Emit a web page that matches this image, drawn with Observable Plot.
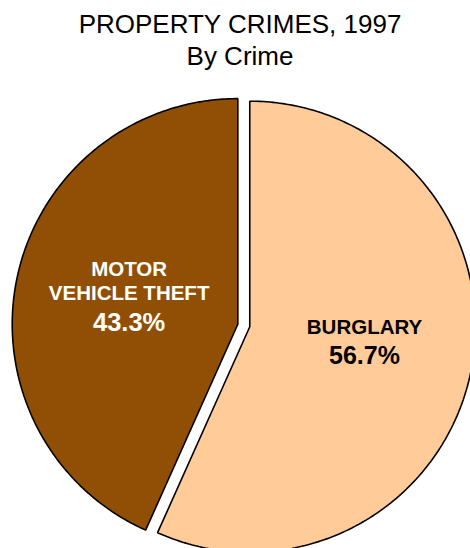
<!DOCTYPE html>
<html><head><meta charset="utf-8">
<script src="https://cdn.jsdelivr.net/npm/d3@7"></script>
<script src="https://cdn.jsdelivr.net/npm/@observablehq/plot@0.6"></script>
<style>
html,body{margin:0;padding:0;background:#fff;overflow:hidden;}
#title{position:relative;width:470px;height:80px;font-family:"Liberation Sans",Arial,sans-serif;color:#000;}
#title div{position:absolute;left:5px;width:470px;text-align:center;font-size:26px;line-height:32px;white-space:nowrap;}
#chart svg{overflow:hidden;display:block;}
</style></head><body>
<div id="title"><div style="top:8px">PROPERTY CRIMES, 1997</div><div style="top:40px">By Crime</div></div>
<div id="chart"></div>
<script>
const categories = ["BURGLARY", "MOTOR VEHICLE THEFT"];
const nameLabels = ["BURGLARY", "MOTOR\nVEHICLE THEFT"];
const percents = [56.7, 43.3];
const colors = ["#FFCC99", "#904F05"];
const textColors = ["#000000", "#ffffff"];

const R = 225.6, CX = 243.3, CY = 245, EXPLODE = 6.1 / 225.6;

const rows = categories.map((c, i) => ({cat: c, value: percents[i]}));
const arcs = d3.pie().sort(null).value(d => d.value)(rows);

const slices = arcs.map((a, i) => {
  const mid = (a.startAngle + a.endAngle) / 2;
  const ox = EXPLODE * Math.sin(mid), oy = EXPLODE * Math.cos(mid);
  const pts = [{cat: rows[i].cat, x: ox, y: oy}];
  const n = 240;
  for (let k = 0; k <= n; k++) {
    const t = a.startAngle + (a.endAngle - a.startAngle) * k / n;
    pts.push({cat: rows[i].cat, x: ox + Math.sin(t), y: oy + Math.cos(t)});
  }
  pts.push({cat: rows[i].cat, x: ox, y: oy});
  return pts;
});

const labelPts = arcs.map((a, i) => {
  const mid = (a.startAngle + a.endAngle) / 2;
  const ox = EXPLODE * Math.sin(mid), oy = EXPLODE * Math.cos(mid);
  return {
    x: ox + 0.52 * Math.sin(mid),
    y: oy + 0.52 * Math.cos(mid),
    name: nameLabels[i],
    pct: percents[i].toFixed(1) + "%",
    color: textColors[i]
  };
});

const font = {fontFamily: "'Liberation Sans', Arial, sans-serif", fontWeight: "bold"};

const chart = Plot.plot({
  width: 470,
  height: 468,
  margin: 0,
  x: {domain: [-1, 1], range: [CX - R, CX + R], axis: null},
  y: {domain: [-1, 1], range: [CY + R, CY - R], axis: null},
  style: {background: "#fff"},
  marks: [
    ...slices.map((pts, i) => Plot.line(pts, {
      x: "x", y: "y", fill: colors[i], stroke: "#000", strokeWidth: 1.6,
      strokeLinejoin: "miter"
    })),
    Plot.text([labelPts[0]], {x: "x", y: "y", text: "name", fill: "color", fontSize: 20.5, dy: -24, ...font}),
    Plot.text([labelPts[0]], {x: "x", y: "y", text: "pct", fill: "color", fontSize: 25, dy: 5, ...font}),
    Plot.text([labelPts[1]], {x: "x", y: "y", text: "name", fill: "color", fontSize: 20.5, dx: 6, dy: -19.5, lineHeight: 1.15, ...font}),
    Plot.text([labelPts[1]], {x: "x", y: "y", text: "pct", fill: "color", fontSize: 25.5, dx: 6, dy: 23, ...font})
  ]
});
document.getElementById("chart").appendChild(chart);
</script>
</body></html>
